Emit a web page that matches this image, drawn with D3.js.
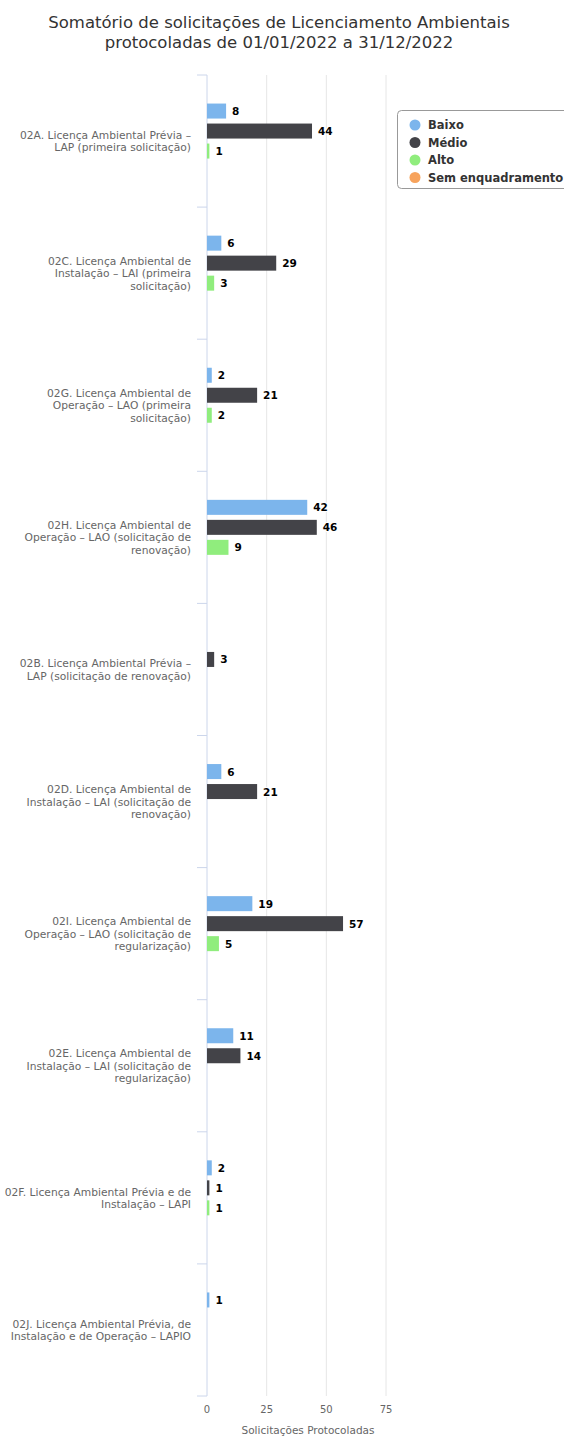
<!DOCTYPE html>
<html>
<head>
<meta charset="utf-8">
<script src="https://cdn.jsdelivr.net/npm/d3@7"></script>
<style>
  html, body { margin: 0; padding: 0; background: #ffffff; }
  svg { display: block; }
</style>
</head>
<body>
<div id="chart"></div>
<script>
// Licence categories (line breaks mark where each label wraps)
const categories = [
  "02A. Licença Ambiental Prévia –\nLAP (primeira solicitação)",
  "02C. Licença Ambiental de\nInstalação – LAI (primeira\nsolicitação)",
  "02G. Licença Ambiental de\nOperação – LAO (primeira\nsolicitação)",
  "02H. Licença Ambiental de\nOperação – LAO (solicitação de\nrenovação)",
  "02B. Licença Ambiental Prévia –\nLAP (solicitação de renovação)",
  "02D. Licença Ambiental de\nInstalação – LAI (solicitação de\nrenovação)",
  "02I. Licença Ambiental de\nOperação – LAO (solicitação de\nregularização)",
  "02E. Licença Ambiental de\nInstalação – LAI (solicitação de\nregularização)",
  "02F. Licença Ambiental Prévia e de\nInstalação – LAPI",
  "02J. Licença Ambiental Prévia, de\nInstalação e de Operação – LAPIO"
];

// Series names and counts per category (null = no requests)
const seriesNames = ["Baixo", "Médio", "Alto", "Sem enquadramento"];
const baixo  = [8, 6, 2, 42, null, 6, 19, 11, 2, 1];
const medio  = [44, 29, 21, 46, 3, 21, 57, 14, 1, null];
const alto   = [1, 3, 2, 9, null, null, 5, null, 1, null];
const semEnq = [null, null, null, null, null, null, null, null, null, null];
const seriesColors = ["#7cb5ec", "#434348", "#90ed7d", "#f7a35c"];

const xTicks = [0, 25, 50, 75];
const titleLines = [
  "Somatório de solicitações de Licenciamento Ambientais",
  "protocoladas de 01/01/2022 a 31/12/2022"
];
const xAxisTitle = "Solicitações Protocoladas";

const W = 564, H = 1439;
const plot = { left: 207, right: 386, top: 75, bottom: 1396 };
const FONT = "'DejaVu Sans', Verdana, sans-serif";

const svg = d3.select("#chart").append("svg")
  .attr("width", W).attr("height", H)
  .style("font-family", FONT);

svg.append("rect").attr("width", W).attr("height", H).attr("fill", "#fff");

// Title
svg.append("g").selectAll("text").data(titleLines).join("text")
  .attr("x", 279)
  .attr("y", (d, i) => 28 + i * 20)
  .attr("text-anchor", "middle")
  .attr("font-size", 16.5)
  .attr("fill", "#333333")
  .text(d => d);

// Scales
const x = d3.scaleLinear().domain([0, 75]).range([plot.left, plot.right]);
const y = d3.scaleBand().domain(d3.range(categories.length)).range([plot.top, plot.bottom]);
const slot = d3.scaleBand().domain(seriesNames).range([-40, 40]).paddingInner(0.25).paddingOuter(0.125);

// Vertical grid lines
svg.append("g").selectAll("line").data(xTicks.slice(1)).join("line")
  .attr("x1", d => x(d)).attr("x2", d => x(d))
  .attr("y1", plot.top).attr("y2", plot.bottom)
  .attr("stroke", "#e6e6e6").attr("stroke-width", 1);

// Category axis line and tick marks between categories
svg.append("line")
  .attr("x1", plot.left).attr("x2", plot.left)
  .attr("y1", plot.top).attr("y2", plot.bottom)
  .attr("stroke", "#ccd6eb");
const boundaries = d3.range(categories.length + 1).map(i => plot.top + i * y.step());
svg.append("g").selectAll("line").data(boundaries).join("line")
  .attr("x1", plot.left - 10).attr("x2", plot.left)
  .attr("y1", d => d).attr("y2", d => d)
  .attr("stroke", "#ccd6eb");

// Category labels
const lblG = svg.append("g");
categories.forEach((c, i) => {
  const lines = c.split("\n");
  const cy = y(i) + y.bandwidth() / 2;
  const lh = 12.5;
  const t = lblG.append("text")
    .attr("text-anchor", "end")
    .attr("font-size", 10.7)
    .attr("fill", "#666666");
  lines.forEach((ln, k) => {
    t.append("tspan")
      .attr("x", 191)
      .attr("y", cy + (k - (lines.length - 1) / 2) * lh + 4)
      .text(ln);
  });
});

// Value axis labels and title
svg.append("g").selectAll("text").data(xTicks).join("text")
  .attr("x", d => x(d)).attr("y", 1413)
  .attr("text-anchor", "middle")
  .attr("font-size", 10)
  .attr("fill", "#666666")
  .text(d => d);
svg.append("text")
  .attr("x", 308).attr("y", 1434)
  .attr("text-anchor", "middle")
  .attr("font-size", 10.5)
  .attr("fill", "#666666")
  .text(xAxisTitle);

// Bars
const allSeries = [baixo, medio, alto, semEnq];
const points = [];
allSeries.forEach((vals, s) => {
  vals.forEach((v, i) => {
    if (v != null) points.push({ s, i, v });
  });
});
const barG = svg.append("g");
barG.selectAll("rect").data(points).join("rect")
  .attr("x", x(0))
  .attr("y", d => y(d.i) + y.bandwidth() / 2 + slot(seriesNames[d.s]))
  .attr("width", d => x(d.v) - x(0))
  .attr("height", slot.bandwidth())
  .attr("fill", d => seriesColors[d.s]);

// Data labels
const dl = svg.append("g");
dl.selectAll("text").data(points).join("text")
  .attr("x", d => x(d.v) + 6)
  .attr("y", d => y(d.i) + y.bandwidth() / 2 + slot(seriesNames[d.s]) + slot.bandwidth() / 2 + 4)
  .attr("font-size", 10.5)
  .attr("font-weight", "bold")
  .attr("fill", "#000000")
  .attr("stroke", "#ffffff").attr("stroke-width", 2).attr("paint-order", "stroke")
  .text(d => d.v);

// Legend
const lg = svg.append("g").attr("transform", "translate(397,110)");
lg.append("rect")
  .attr("x", 0.5).attr("y", 0.5)
  .attr("width", 190).attr("height", 78)
  .attr("rx", 4)
  .attr("fill", "#ffffff").attr("stroke", "#999999");
const items = lg.selectAll("g.item").data(seriesNames).join("g")
  .attr("class", "item")
  .attr("transform", (d, i) => `translate(0,${15 + i * 17.5})`);
items.append("circle")
  .attr("cx", 18).attr("cy", 0).attr("r", 5.5)
  .attr("fill", (d, i) => seriesColors[i]);
items.append("text")
  .attr("x", 31).attr("y", 4)
  .attr("font-size", 11.5)
  .attr("font-weight", "bold")
  .attr("fill", "#333333")
  .text(d => d);
</script>
</body>
</html>
